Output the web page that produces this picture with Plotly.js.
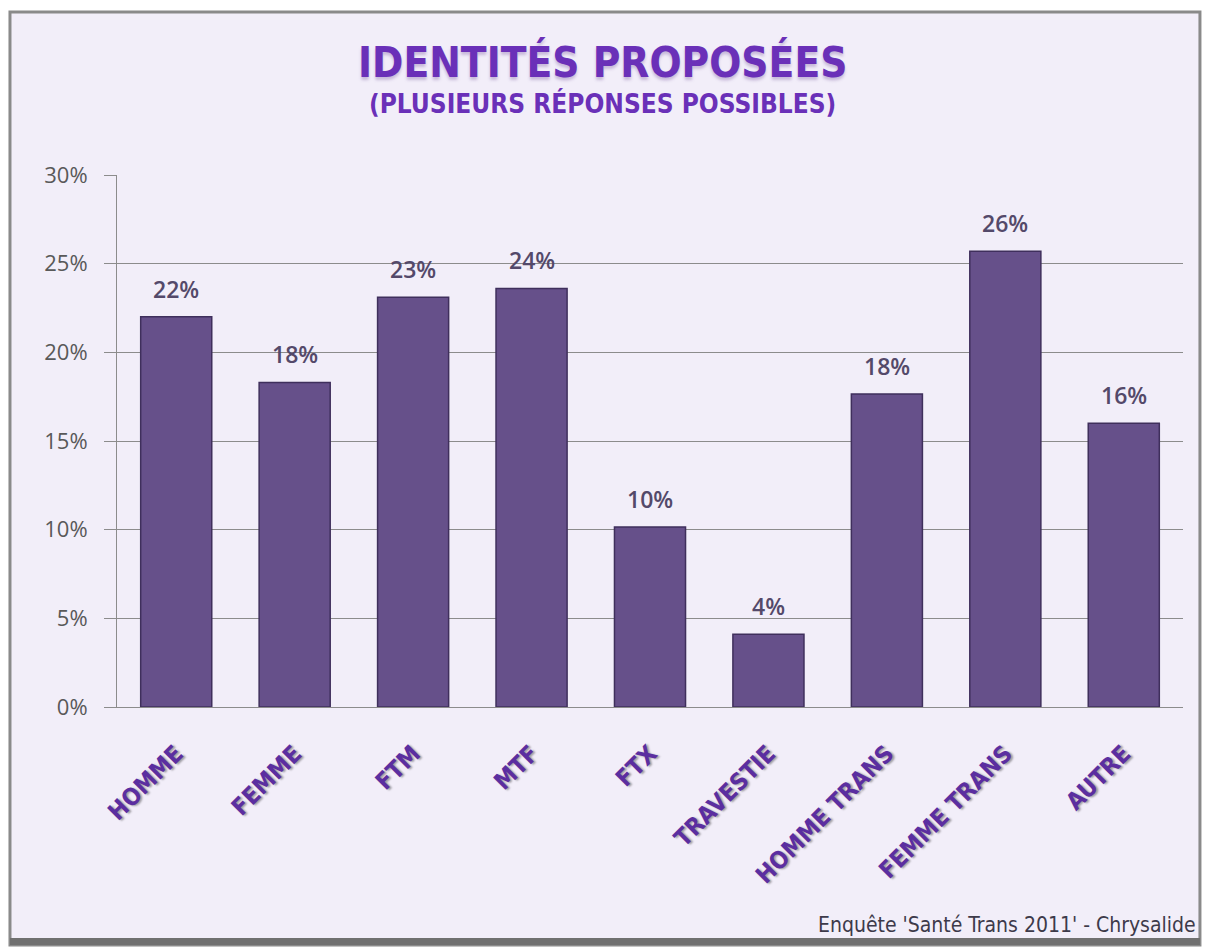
<!DOCTYPE html>
<html>
<head>
<meta charset="utf-8">
<script src="https://cdn.plot.ly/plotly-3.0.1.min.js"></script>
<style>html,body{margin:0;padding:0;background:#fff;}#chart{width:1206px;height:950px;}</style>
</head>
<body>
<div id="chart"></div>
<script>
const categories = ["HOMME", "FEMME", "FTM", "MTF", "FTX", "TRAVESTIE", "HOMME TRANS", "FEMME TRANS", "AUTRE"];
const values = [22.0, 18.3, 23.1, 23.6, 10.15, 4.1, 17.65, 25.7, 16.0];
const yTickVals = [0, 5, 10, 15, 20, 25, 30];
const yTickText = ["0%", "5%", "10%", "15%", "20%", "25%", "30%"];
const titleMain = "IDENTITÉS PROPOSÉES";
const titleSub = "(PLUSIEURS RÉPONSES POSSIBLES)";
const sourceText = "Enquête 'Santé Trans 2011' - Chrysalide";

const narrow = "DejaVu Sans Condensed, Liberation Sans Narrow, sans-serif";

const trace = {
  type: "bar",
  x: categories,
  y: values,
  marker: { color: "#66508a", line: { color: "#3f2f5c", width: 1.5 } },
  hoverinfo: "x+y"
};

const annotations = values.map((v, i) => ({
  x: categories[i], y: v, xref: "x", yref: "y",
  text: Math.round(v) + "%",
  showarrow: false, yanchor: "middle", yshift: 28,
  font: { family: "Open Sans, sans-serif", size: 23, color: "#54496a", weight: 600 }
}));

annotations.push({
  xref: "paper", yref: "paper", x: 0.4554, y: 1.2124,
  text: "<b>" + titleMain + "</b>", showarrow: false, xanchor: "center", yanchor: "middle",
  font: { family: narrow, size: 42, color: "#6a30b8", shadow: "0px 3px 3px rgba(120,90,160,0.35)" }
});
annotations.push({
  xref: "paper", yref: "paper", x: 0.4559, y: 1.1353,
  text: "<b>" + titleSub + "</b>", showarrow: false, xanchor: "center", yanchor: "middle",
  font: { family: narrow, size: 26, color: "#6a30b8" }
});
annotations.push({
  xref: "paper", yref: "paper", x: 1.0145, y: -0.41,
  text: sourceText, showarrow: false, xanchor: "right", yanchor: "middle",
  font: { family: narrow, size: 21, color: "#3d3a4a" }
});

const shapes = [
  { type: "rect", xref: "paper", yref: "paper", x0: -0.1004, x1: 1.0159, y0: -0.4474, y1: 1.3064,
    fillcolor: "#f2eef9", line: { color: "#8a8a8a", width: 3 }, layer: "below" },
  { type: "rect", xref: "paper", yref: "paper", x0: -0.1004, x1: 1.0159, y0: -0.4474, y1: -0.4342,
    fillcolor: "#707070", line: { width: 0 }, layer: "below" }
];

const layout = {
  width: 1206, height: 950,
  margin: { l: 117, r: 23, t: 175, b: 243 },
  paper_bgcolor: "#ffffff",
  plot_bgcolor: "#e6e1ee",
  showlegend: false,
  bargap: 0.4,
  xaxis: {
    type: "category",
    tickangle: -45,
    showline: true, linecolor: "#8c8c8c", linewidth: 1,
    ticks: "",
    showgrid: false,
    ticklabelstandoff: 22,
    tickfont: { family: narrow, size: 24, color: "#5b2ea0", weight: "bold",
      shadow: "1px 2px 2px rgba(0,0,0,0.35)" }
  },
  yaxis: {
    range: [0, 30],
    tickvals: yTickVals, ticktext: yTickText,
    ticks: "outside", ticklen: 12, tickcolor: "#8c8c8c",
    showline: true, linecolor: "#8c8c8c", linewidth: 1,
    showgrid: true, gridcolor: "#8c8c8c", gridwidth: 1,
    zeroline: false,
    ticklabelstandoff: 12,
    tickfont: { family: "Open Sans, sans-serif", size: 22, color: "#595959" }
  },
  annotations: annotations,
  shapes: shapes
};

Plotly.newPlot("chart", [trace], layout, { displayModeBar: false, staticPlot: true });
</script>
</body>
</html>
